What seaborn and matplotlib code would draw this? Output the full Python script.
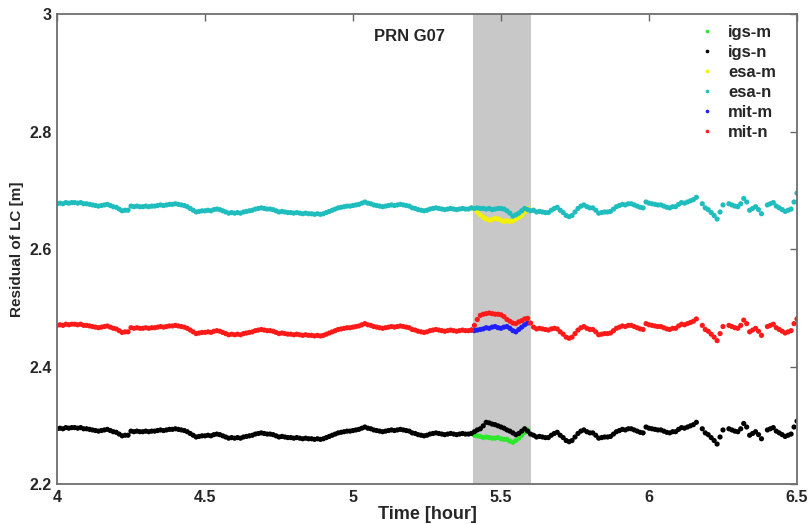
import numpy as np
import pandas as pd
import matplotlib
matplotlib.use("Agg")
import matplotlib.pyplot as plt
import seaborn as sns
from matplotlib.ticker import FixedLocator, FuncFormatter

sns.set_theme(style="white")
plt.rcParams['font.family'] = ['Liberation Sans', 'DejaVu Sans']

# ---------------- data (residuals in mm, i.e. 2294 -> 2.294 m) ----------------
series_names = ["igs-m", "igs-n", "esa-m", "esa-n", "mit-m", "mit-n"]
series_colors = ["#2ee82e", "#000000", "#f2f200", "#1fbdbd", "#1f1fff", "#ff1a1a"]

# epochs of the "n" solutions: 4.00 .. 6.50 h every 0.01 h
time_n = np.linspace(4.0, 6.5, 251)
# epochs of the "m" solutions inside the grey window: 5.40 .. 5.59 h
time_m = np.linspace(5.40, 5.59, 20)

igs_n = [
    2294, 2295, 2294, 2296, 2295, 2296, 2296, 2295, 2296, 2294,
    2294, 2293, 2292, 2291, 2290, 2291, 2292, 2293, 2291, 2289,
    2288, 2285, 2282, 2283, 2283, 2290, 2289, 2290, 2289, 2289,
    2290, 2289, 2290, 2290, 2291, 2292, 2291, 2292, 2293, 2293,
    2294, 2293, 2292, 2291, 2289, 2286, 2283, 2280, 2281, 2282,
    2282, 2283, 2282, 2284, 2285, 2284, 2282, 2280, 2278, 2279,
    2278, 2279, 2278, 2280, 2281, 2282, 2283, 2285, 2286, 2287,
    2286, 2285, 2285, 2284, 2282, 2280, 2281, 2280, 2279, 2279,
    2278, 2279, 2278, 2277, 2278, 2277, 2277, 2276, 2277, 2276,
    2277, 2279, 2281, 2283, 2285, 2287, 2288, 2289, 2290, 2290,
    2291, 2292, 2293, 2295, 2297, 2295, 2294, 2292, 2291, 2290,
    2289, 2290, 2291, 2292, 2291, 2292, 2293, 2292, 2291, 2290,
    2287, 2286, 2284, 2283, 2282, 2283, 2285, 2286, 2287, 2286,
    2285, 2284, 2285, 2286, 2285, 2284, 2285, 2286, 2285, 2285,
    2286, 2289, 2292, 2294, 2299, 2305, 2304, 2302, 2301, 2299,
    2297, 2295, 2292, 2290, 2287, 2284, 2286, 2290, 2294, 2290,
    2285, 2283, 2280, 2281, 2280, 2279, 2279, 2283, 2286, 2288,
    2283, 2279, 2274, 2272, 2274, 2280, 2286, 2290, 2292, 2289,
    2287, 2287, 2283, 2278, 2279, 2280, 2280, 2281, 2285, 2289,
    2291, 2293, 2292, 2294, 2294, 2292, 2290, 2288, 2287, 2297,
    2295, 2294, 2293, 2292, 2292, 2290, 2288, 2287, 2289, 2289,
    2293, 2296, 2295, 2297, 2299, 2301, 2305, None, 2294, 2287,
    2284, 2279, 2274, 2268, 2280, 2292, None, 2294, 2292, 2290,
    2289, 2294, 2303, 2297, 2283, 2286, 2289, 2284, 2277, None,
    2292, 2294, 2296, 2290, 2287, 2284, 2281, 2283, 2285, 2297,
    2307,
]

mit_n = [
    2470, 2471, 2470, 2472, 2471, 2472, 2472, 2471, 2472, 2470,
    2470, 2469, 2468, 2467, 2466, 2467, 2468, 2469, 2467, 2465,
    2464, 2461, 2458, 2459, 2459, 2466, 2465, 2466, 2465, 2465,
    2466, 2465, 2466, 2466, 2467, 2468, 2467, 2468, 2469, 2469,
    2470, 2469, 2468, 2467, 2465, 2462, 2459, 2456, 2457, 2458,
    2458, 2459, 2458, 2460, 2461, 2460, 2458, 2456, 2454, 2455,
    2454, 2455, 2454, 2456, 2457, 2458, 2459, 2461, 2462, 2463,
    2462, 2461, 2461, 2460, 2458, 2456, 2457, 2456, 2455, 2455,
    2454, 2455, 2454, 2453, 2454, 2453, 2453, 2452, 2453, 2452,
    2453, 2455, 2457, 2459, 2461, 2463, 2464, 2465, 2466, 2466,
    2467, 2468, 2469, 2471, 2473, 2471, 2470, 2468, 2467, 2466,
    2465, 2466, 2467, 2468, 2467, 2468, 2469, 2468, 2467, 2466,
    2463, 2462, 2460, 2459, 2458, 2459, 2461, 2462, 2463, 2462,
    2461, 2460, 2461, 2462, 2461, 2460, 2461, 2462, 2461, 2461,
    2462, 2470, 2480, 2487, 2489, 2490, 2491, 2490, 2489, 2489,
    2488, 2485, 2480, 2477, 2474, 2473, 2476, 2478, 2481, 2482,
    2474, 2467, 2464, 2465, 2464, 2463, 2462, 2464, 2465, 2464,
    2459, 2455, 2450, 2448, 2450, 2456, 2462, 2466, 2468, 2465,
    2463, 2463, 2459, 2454, 2455, 2456, 2456, 2457, 2461, 2465,
    2467, 2469, 2468, 2470, 2470, 2468, 2466, 2464, 2463, 2473,
    2471, 2470, 2469, 2468, 2468, 2466, 2464, 2463, 2465, 2465,
    2469, 2472, 2471, 2473, 2475, 2477, 2481, None, 2470, 2463,
    2460, 2455, 2450, 2444, 2456, 2468, None, 2470, 2468, 2466,
    2465, 2470, 2479, 2473, 2459, 2462, 2465, 2460, 2453, None,
    2468, 2470, 2472, 2466, 2463, 2460, 2457, 2459, 2461, 2473,
    2481,
]

esa_n = [
    2677, 2678, 2677, 2679, 2678, 2679, 2679, 2678, 2679, 2677,
    2677, 2676, 2675, 2674, 2673, 2674, 2675, 2676, 2674, 2672,
    2671, 2668, 2665, 2666, 2666, 2673, 2672, 2673, 2672, 2672,
    2673, 2672, 2673, 2673, 2674, 2675, 2674, 2675, 2676, 2676,
    2677, 2676, 2675, 2674, 2672, 2669, 2666, 2663, 2664, 2665,
    2665, 2666, 2665, 2667, 2668, 2667, 2665, 2663, 2661, 2662,
    2661, 2662, 2661, 2663, 2664, 2665, 2666, 2668, 2669, 2670,
    2669, 2668, 2668, 2667, 2665, 2663, 2664, 2663, 2662, 2662,
    2661, 2662, 2661, 2660, 2661, 2660, 2660, 2659, 2660, 2659,
    2660, 2662, 2664, 2666, 2668, 2670, 2671, 2672, 2673, 2673,
    2674, 2675, 2676, 2678, 2680, 2678, 2677, 2675, 2674, 2673,
    2672, 2673, 2674, 2675, 2674, 2675, 2676, 2675, 2674, 2673,
    2670, 2669, 2667, 2666, 2665, 2666, 2668, 2669, 2670, 2669,
    2668, 2667, 2668, 2669, 2668, 2667, 2668, 2669, 2668, 2668,
    2670, 2669, 2670, 2669, 2669, 2668, 2669, 2667, 2668, 2669,
    2669, 2668, 2665, 2661, 2656, 2658, 2661, 2665, 2669, 2667,
    2665, 2666, 2663, 2664, 2663, 2662, 2662, 2666, 2669, 2671,
    2666, 2662, 2657, 2655, 2657, 2663, 2669, 2673, 2675, 2672,
    2670, 2670, 2666, 2661, 2662, 2663, 2663, 2664, 2668, 2672,
    2674, 2676, 2675, 2677, 2677, 2675, 2673, 2671, 2670, 2680,
    2678, 2677, 2676, 2675, 2675, 2673, 2671, 2670, 2672, 2672,
    2676, 2679, 2678, 2680, 2682, 2684, 2688, None, 2677, 2670,
    2667, 2662, 2657, 2651, 2663, 2675, None, 2677, 2675, 2673,
    2672, 2677, 2686, 2680, 2666, 2669, 2672, 2667, 2660, None,
    2675, 2677, 2679, 2673, 2670, 2667, 2664, 2666, 2668, 2680,
    2695,
]

igs_m = [2286, 2283, 2282, 2281, 2279, 2280, 2279, 2278, 2278, 2279,
         2277, 2276, 2276, 2273, 2271, 2274, 2278, 2283, 2288, 2292]
esa_m = [2670, 2668, 2663, 2658, 2654, 2651, 2649, 2650, 2652, 2651,
         2649, 2647, 2648, 2647, 2648, 2651, 2654, 2657, 2663, 2669]
mit_m = [2462, 2461, 2462, 2463, 2464, 2466, 2465, 2467, 2468, 2466,
         2465, 2467, 2468, 2465, 2461, 2459, 2463, 2467, 2471, 2474]

window_start, window_end = 5.405, 5.60
x_ticks = [4, 4.5, 5, 5.5, 6, 6.5]
y_ticks = [2.2, 2.4, 2.6, 2.8, 3.0]

# ---------------- build table ----------------
series_data = {
    "igs-m": (time_m, igs_m), "igs-n": (time_n, igs_n),
    "esa-m": (time_m, esa_m), "esa-n": (time_n, esa_n),
    "mit-m": (time_m, mit_m), "mit-n": (time_n, mit_n),
}
rows = []
for name in series_names:
    t, vals = series_data[name]
    for ti, v in zip(t, vals):
        if v is not None:
            rows.append((ti, v / 1000.0, name))
df = pd.DataFrame(rows, columns=["time", "residual", "series"])

# ---------------- figure ----------------
fig = plt.figure(figsize=(8.09, 5.24), dpi=100)
ax = fig.add_axes([57 / 809, 1 - 484 / 524, (797 - 57) / 809, (484 - 14) / 524])
ax.axvspan(window_start, window_end, color="#c8c8c8", lw=0, zorder=0)

sns.scatterplot(data=df, x="time", y="residual", hue="series",
                hue_order=series_names,
                palette=dict(zip(series_names, series_colors)),
                s=14, linewidth=0, ax=ax, zorder=2)

ax.set_xlim(4, 6.5)
ax.set_ylim(2.2, 3.0)
ax.xaxis.set_major_locator(FixedLocator(x_ticks))
ax.yaxis.set_major_locator(FixedLocator(y_ticks))
fmt = FuncFormatter(lambda v, p: "%g" % v)
ax.xaxis.set_major_formatter(fmt)
ax.yaxis.set_major_formatter(fmt)
ax.tick_params(direction="in", top=True, right=True, length=5, width=1,
               color="#666666", labelsize=11.5, pad=4)
for lab in ax.get_xticklabels() + ax.get_yticklabels():
    lab.set_fontweight("bold")
for sp in ax.spines.values():
    sp.set_color("#6e6e6e")
    sp.set_linewidth(1.3)

ax.set_xlabel("Time [hour]", fontsize=13, fontweight="bold", labelpad=1)
ax.set_ylabel("Residual of LC [m]", fontsize=11, fontweight="bold", labelpad=4)

ax.text(5.19, 2.962, "PRN G07", fontsize=12, fontweight="bold",
        ha="center", va="center")

handles, labels = ax.get_legend_handles_labels()
ax.legend(handles, labels, loc="upper right", bbox_to_anchor=(0.992, 1.008),
          frameon=False, prop={"weight": "bold", "size": 12},
          markerscale=0.7, handletextpad=0.7, labelspacing=0.3,
          handlelength=1.2)

fig.savefig("out.png", dpi=100)
